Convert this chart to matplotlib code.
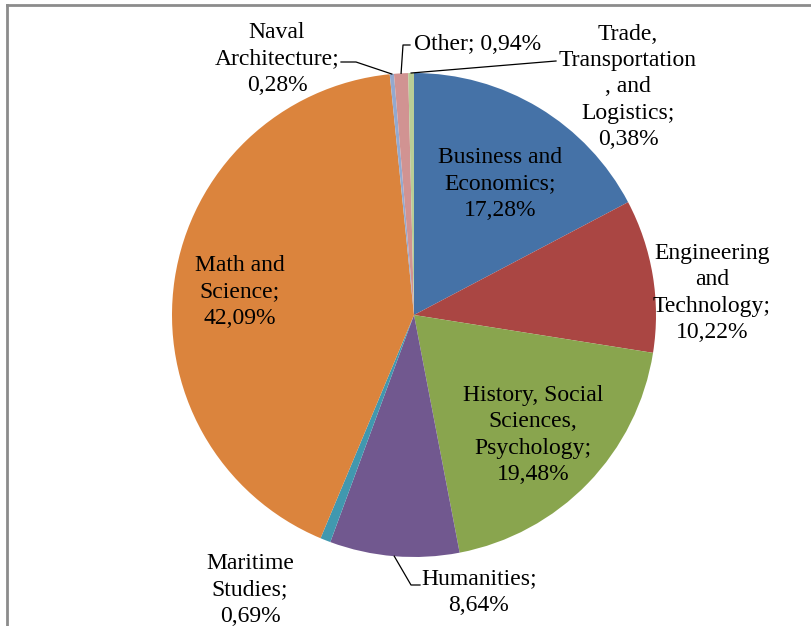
import numpy as np
import matplotlib.pyplot as plt

labels = ["Business and\nEconomics;", "Engineering\nand\nTechnology;",
          "History, Social\nSciences,\nPsychology;", "Humanities;",
          "Maritime\nStudies;", "Math and\nScience;", "Naval\nArchitecture;",
          "Other;", "Trade,\nTransportation\n, and\nLogistics;"]
shares = [17.28, 10.22, 19.48, 8.64, 0.69, 42.09, 0.28, 0.94, 0.38]
colors = ["#4572A7", "#AA4643", "#89A54E", "#71588F", "#4198AF",
          "#DB843D", "#93A9CF", "#D19392", "#B9CD96"]

W, H = 812, 626
plt.rcParams["font.family"] = ["Liberation Serif", "DejaVu Serif"]

fig = plt.figure(figsize=(W / 100, H / 100), dpi=100)
ax = fig.add_axes([0, 0, 1, 1])

cx, cy, r = 414, H - 315, 242
ax.pie(shares, colors=colors, startangle=90, counterclock=False,
       center=(cx, cy), radius=r, frame=True,
       wedgeprops=dict(linewidth=0))
ax.set_xlim(0, W)
ax.set_ylim(0, H)
ax.axis("off")


def fmt(v):
    return f"{v:.2f}%".replace(".", ",")


def edge(i, k=1.0):
    cum = sum(shares[:i]) + shares[i] / 2
    a = np.deg2rad(90 - 360 * cum / 100)
    return cx + k * r * np.cos(a), cy + k * r * np.sin(a)


# label anchor positions (pixel, from top)
pos = {0: (500, 184), 1: (712, 293), 2: (533, 435), 3: (479, 592),
       4: (250, 590), 5: (240, 292), 6: (277, 59), 7: (478, 45),
       8: (628, 87)}
fs = 17
for i, (x, y) in pos.items():
    if i == 7:
        txt = labels[i] + " " + fmt(shares[i])
    else:
        txt = labels[i] + "\n" + fmt(shares[i])
    ax.text(x, H - y, txt, ha="center", va="center", fontsize=fs,
            linespacing=1.33, color="black")

lc = dict(color="black", lw=0.9)
# Humanities leader
ex, ey = edge(3)
ax.plot([ex, 411, 420], [ey, H - 585, H - 585], **lc)
# Naval Architecture leader
ex, ey = edge(6)
ax.plot([341, 356, ex], [H - 62, H - 62, ey], **lc)
# Other leader
ex, ey = edge(7)
ax.plot([410, 403, ex], [H - 45, H - 45, ey], **lc)
# Trade leader
ex, ey = edge(8)
ax.plot([556, ex], [H - 61, ey], **lc)

# frame lines
ax.plot([7, W], [H - 5, H - 5], color="#8c8c8c", lw=2, clip_on=False)
ax.plot([7, 7], [0, H - 5], color="#8c8c8c", lw=2, clip_on=False)

fig.savefig("out.png", dpi=100)
